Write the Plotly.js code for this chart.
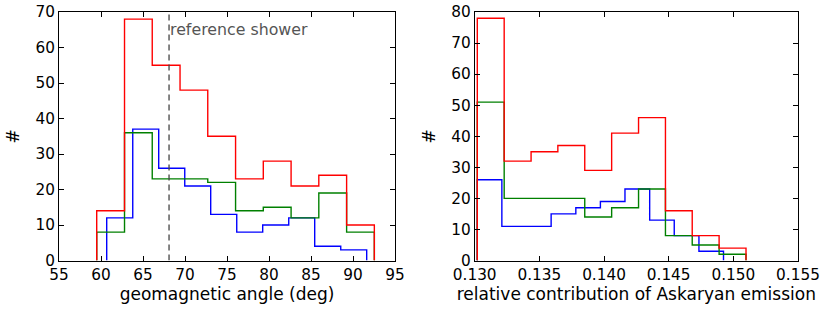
<!DOCTYPE html>
<html>
<head>
<meta charset="utf-8">
<script src="https://cdn.plot.ly/plotly-3.0.1.min.js"></script>
<style>html,body{margin:0;padding:0;background:#fff;}#chart{width:821px;height:311px;}</style>
</head>
<body>
<div id="chart"></div>
<script>
// Left panel: geomagnetic angle histograms
const angleEdgesRG = [59.49, 62.80, 66.10, 69.41, 72.71, 76.02, 79.32, 82.63, 85.93, 89.24, 92.54];
const angleEdgesB  = [60.68, 63.78, 66.87, 69.97, 73.06, 76.16, 79.25, 82.35, 85.44, 88.54, 91.63];
const angleRed   = [14, 68, 55, 48, 35, 23, 28, 21, 24, 10];
const angleGreen = [8, 36, 23, 23, 22, 14, 15, 12, 19, 8];
const angleBlue  = [12, 37, 26, 21, 13, 8, 10, 12, 4, 3];
const referenceAngle = 68.1;
const referenceLabel = "reference shower";

// Right panel: relative contribution of Askaryan emission
const askEdgesRG = [0.13020, 0.13228, 0.13436, 0.13643, 0.13851, 0.14059, 0.14267, 0.14475, 0.14682, 0.14890, 0.15098];
const askEdgesB  = [0.13020, 0.13210, 0.13401, 0.13591, 0.13782, 0.13972, 0.14162, 0.14353, 0.14543, 0.14734, 0.14924];
const askRed   = [78, 32, 35, 37, 29, 41, 46, 16, 8, 4];
const askGreen = [51, 20, 20, 20, 14, 17, 23, 8, 5, 2];
const askBlue  = [26, 11, 11, 15, 17, 19, 23, 13, 8, 3];

const leftXTitle = "geomagnetic angle (deg)";
const rightXTitle = "relative contribution of Askaryan emission";
const yTitle = "#";

function step(edges, counts) {
  const x = [edges[0]], y = [0];
  for (let i = 0; i < counts.length; i++) {
    x.push(edges[i], edges[i + 1]);
    y.push(counts[i], counts[i]);
  }
  x.push(edges[edges.length - 1]);
  y.push(0);
  return {x, y};
}

function trace(edges, counts, color, xa, ya) {
  const s = step(edges, counts);
  return {x: s.x, y: s.y, type: 'scatter', mode: 'lines', xaxis: xa, yaxis: ya,
          line: {color: color, width: 1.4}, hoverinfo: 'skip', showlegend: false};
}

const RED = '#ff0000', GREEN = '#008000', BLUE = '#0000ff';

const data = [
  trace(angleEdgesB, angleBlue, BLUE, 'x', 'y'),
  trace(angleEdgesRG, angleGreen, GREEN, 'x', 'y'),
  trace(angleEdgesRG, angleRed, RED, 'x', 'y'),
  trace(askEdgesB, askBlue, BLUE, 'x2', 'y2'),
  trace(askEdgesRG, askGreen, GREEN, 'x2', 'y2'),
  trace(askEdgesRG, askRed, RED, 'x2', 'y2')
];

const FONT = 'DejaVu Sans, sans-serif';
const axisCommon = {
  showline: true, linecolor: '#000', linewidth: 1, mirror: 'ticks',
  ticks: 'inside', ticklen: 5, tickwidth: 1, tickcolor: '#000',
  showgrid: false, zeroline: false, automargin: false,
  tickfont: {family: FONT, size: 15.3, color: '#000'}
};

const yb = (311 - 260.5) / 311, yt = (311 - 12) / 311;

const layout = {
  width: 821, height: 311,
  margin: {l: 0, r: 0, t: 0, b: 0},
  paper_bgcolor: '#fff', plot_bgcolor: '#fff',
  font: {family: FONT, color: '#000'},
  showlegend: false,
  xaxis: Object.assign({}, axisCommon, {
    domain: [59 / 821, 395 / 821], range: [55, 95], dtick: 5, tick0: 55,
    title: {text: leftXTitle, font: {family: FONT, size: 17}, standoff: 5}
  }),
  yaxis: Object.assign({}, axisCommon, {
    domain: [yb, yt], range: [0, 70], dtick: 10, anchor: 'x',
    title: {text: yTitle, font: {family: FONT, size: 17}, standoff: 11}
  }),
  xaxis2: Object.assign({}, axisCommon, {
    domain: [474.7 / 821, 798 / 821], range: [0.130, 0.155], dtick: 0.005, tick0: 0.130,
    tickformat: '.3f', anchor: 'y2',
    title: {text: rightXTitle, font: {family: FONT, size: 17}, standoff: 5}
  }),
  yaxis2: Object.assign({}, axisCommon, {
    domain: [yb, yt], range: [0, 80], dtick: 10, anchor: 'x2',
    title: {text: yTitle, font: {family: FONT, size: 17}, standoff: 11}
  }),
  shapes: [{
    type: 'line', xref: 'x', yref: 'y', x0: referenceAngle, x1: referenceAngle, y0: 0, y1: 70,
    line: {color: '#444', width: 1.3, dash: '6px,4px'}, layer: 'above'
  }],
  annotations: [{
    xref: 'x', yref: 'y', x: referenceAngle, y: 65, xanchor: 'left', yanchor: 'middle',
    text: referenceLabel, showarrow: false, xshift: -1,
    font: {family: FONT, size: 15.8, color: '#555'}
  }]
};

Plotly.newPlot('chart', data, layout, {staticPlot: true, displayModeBar: false});
</script>
</body>
</html>
